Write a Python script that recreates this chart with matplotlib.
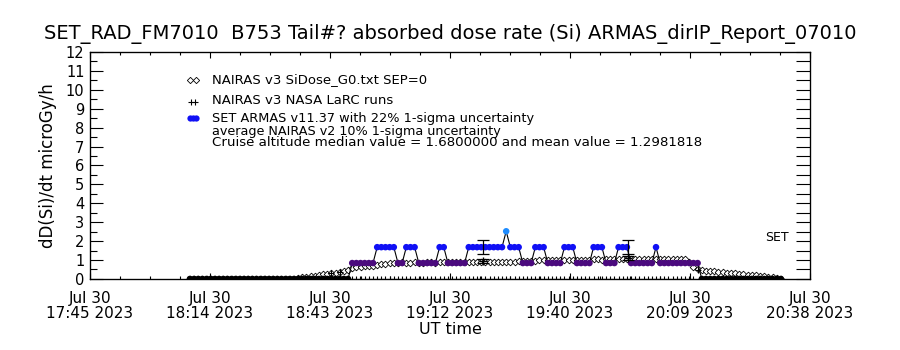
import numpy as np
import matplotlib
matplotlib.use('Agg')
import matplotlib.pyplot as plt
from matplotlib.lines import Line2D

# DATA -- time axis is minutes after 17:45 UT on Jul 30 2023
minutes = np.arange(24, 167)

# SET ARMAS v11.37 dose rate, one sample per minute (t = 24 ... 166)
armas_dose = [
    0, 0, 0, 0, 0, 0, 0, 0, 0, 0, 0, 0, 0, 0, 0, 0, 0, 0, 0, 0,
    0, 0, 0, 0, 0, 0, 0, 0, 0, 0, 0, 0, 0, 0, 0, 0, 0, 0, 0,
    0.84, 0.84, 0.84, 0.84, 0.84, 0.84, 1.68, 1.68, 1.68, 1.68, 1.68,
    0.84, 0.84, 1.68, 1.68, 1.68, 0.84, 0.84, 0.84, 0.84, 0.84,
    1.68, 1.68, 0.84, 0.84, 0.84, 0.84, 0.84,
    1.68, 1.68, 1.68, 1.68, 1.68, 1.68, 1.68, 1.68, 1.68, 2.52,
    1.68, 1.68, 1.68, 0.84, 0.84, 0.84, 1.68, 1.68, 1.68,
    0.84, 0.84, 0.84, 0.84, 1.68, 1.68, 1.68, 0.84, 0.84, 0.84, 0.84,
    1.68, 1.68, 1.68, 0.84, 0.84, 0.84, 1.68, 1.68, 1.68,
    0.84, 0.84, 0.84, 0.84, 0.84, 0.84, 1.68,
    0.84, 0.84, 0.84, 0.84, 0.84, 0.84, 0.84, 0.84, 0.84, 0.84,
    0, 0, 0, 0, 0, 0, 0, 0, 0, 0, 0, 0, 0, 0, 0, 0, 0, 0, 0, 0,
]

# NAIRAS v3 SiDose_G0.txt SEP=0 (t = 24 ... 166)
nairas_sidose = [
    0, 0, 0, 0, 0, 0, 0, 0, 0, 0, 0, 0, 0, 0, 0, 0, 0, 0, 0, 0, 0, 0, 0, 0,
    0.00, 0.02, 0.05, 0.08, 0.12, 0.15, 0.18, 0.21, 0.24, 0.27, 0.30, 0.33,
    0.37, 0.41, 0.46,
    0.58, 0.62, 0.64, 0.66, 0.68, 0.70, 0.73, 0.77, 0.81, 0.84,
    0.86, 0.86, 0.87, 0.86, 0.86, 0.87, 0.86, 0.86, 0.87, 0.87, 0.86, 0.87,
    0.87, 0.88, 0.87, 0.87, 0.88, 0.88, 0.87, 0.88, 0.88, 0.89, 0.88, 0.88,
    0.89, 0.89, 0.90, 0.90,
    0.91, 0.92, 0.93, 0.94, 0.95, 0.96, 0.97, 0.98, 0.98, 0.99,
    1.00, 1.00, 1.01, 1.01, 1.00, 1.01, 1.02, 1.02, 1.01, 1.02, 1.03, 1.03,
    1.02, 1.03, 1.04, 1.04, 1.03, 1.04, 1.05, 1.05, 1.04, 1.05, 1.05, 1.06,
    1.05, 1.05, 1.06, 1.06, 1.05, 1.06, 1.05, 1.05, 1.04,
    0.90, 0.65, 0.50,
    0.46, 0.44, 0.42, 0.40, 0.37, 0.35, 0.33, 0.31, 0.29, 0.27, 0.25, 0.23,
    0.21, 0.19, 0.17, 0.14, 0.12, 0.10,
    0.06, 0.0,
]

# NAIRAS v3 NASA LaRC runs (t = 24 ... 166)
larc_dose = [
    0, 0, 0, 0, 0, 0, 0, 0, 0, 0, 0, 0, 0, 0, 0, 0, 0, 0, 0, 0,
    0, 0, 0, 0, 0, 0, 0, 0, 0, 0, 0, 0, 0, 0, 0.32, 0, 0.37, 0, 0, 0,
    0, 0, 0, 0, 0, 0, 0, 0, 0, 0, 0, 0, 0, 0, 0, 0, 0, 0, 0, 0,
    0, 0, 0, 0, 0, 0, 0, 0, 0, 0, 0, 0, 0, 0, 0, 0, 0, 0, 0, 0,
    0, 0, 0, 0, 0, 0, 0, 0, 0, 0, 0, 0, 0, 0, 0, 0, 0, 0, 0, 0,
    0, 0, 0, 0, 0, 0, 0, 0, 0, 0, 0, 0, 0, 0, 0, 0, 0, 0, 0, 0,
    0, 0, 0.45, 0, 0, 0, 0, 0, 0, 0, 0, 0, 0, 0, 0, 0, 0, 0, 0, 0,
    0, 0, 0,
]

# uncertainty markers
err_minutes = [94.4, 129.3]
armas_median = [1.68, 1.68]
armas_sigma = [0.37, 0.37]
nairas_avg = [0.95, 1.12]
nairas_sigma = [0.10, 0.11]

x_tick_labels = ['Jul 30\n17:45 2023', 'Jul 30\n18:14 2023', 'Jul 30\n18:43 2023',
                 'Jul 30\n19:12 2023', 'Jul 30\n19:40 2023', 'Jul 30\n20:09 2023',
                 'Jul 30\n20:38 2023']
x_span = 173  # 17:45 -> 20:38

legend_texts = ['NAIRAS v3 SiDose_G0.txt SEP=0',
                'NAIRAS v3 NASA LaRC runs',
                'SET ARMAS v11.37 with 22% 1-sigma uncertainty',
                'average NAIRAS v2 10% 1-sigma uncertainty',
                'Cruise altitude median value = 1.6800000 and mean value = 1.2981818']

title = 'SET_RAD_FM7010  B753 Tail#? absorbed dose rate (Si) ARMAS_dirIP_Report_07010'

level_colors = {0: 'black', 0.84: '#4b0a7e', 1.68: '#1010f5', 2.52: '#1e8cff'}

plt.rcParams['font.family'] = ['DejaVu Sans']

fig = plt.figure(figsize=(9, 3.5), dpi=100)
ax = fig.add_axes([0.1, 0.203, 0.8, 0.6486])

# NAIRAS SiDose chain of open diamonds
ax.plot(minutes, nairas_sidose, color='black', lw=0.5, marker='D', ms=3.4,
        mfc='white', mec='black', mew=0.6, zorder=2)

# LaRC runs
ax.plot(minutes, larc_dose, linestyle='none', marker='+', ms=5, mew=0.8,
        color='black', zorder=3)

# ARMAS: thin black connecting line, dots coloured by level
ax.plot(minutes, armas_dose, color='black', lw=0.8, zorder=4)
dot_colors = [level_colors[v] for v in armas_dose]
ax.scatter(minutes, armas_dose, s=22, c=dot_colors, linewidths=0, zorder=5)

ax.errorbar(err_minutes, armas_median, yerr=armas_sigma, fmt='none',
            ecolor='black', elinewidth=0.9, capsize=4, capthick=0.9, zorder=6)
ax.errorbar(err_minutes, nairas_avg, yerr=nairas_sigma, fmt='+', color='black',
            ms=6, elinewidth=0.9, capsize=4, capthick=0.9, zorder=6)

ax.set_xlim(0, x_span)
ax.set_ylim(0, 12)
ax.set_xticks(np.linspace(0, x_span, 7))
ax.set_xticks(np.linspace(0, x_span, 25), minor=True)
ax.set_xticklabels(x_tick_labels, fontsize=11, linespacing=0.95)
ax.set_yticks(range(13))
ax.set_yticks(np.arange(0, 12.5, 0.5), minor=True)
ax.tick_params(axis='y', which='major', direction='in', length=9, width=0.8,
               labelsize=10.5, pad=4)
ax.tick_params(axis='y', which='minor', direction='in', length=4.8, width=0.8)
ax.tick_params(axis='x', which='major', direction='in', length=4.5, width=0.8,
               top=True, pad=9)
ax.tick_params(axis='x', which='minor', direction='in', length=2.2, width=0.8,
               top=True)
for s in ax.spines.values():
    s.set_linewidth(0.9)

# right-hand axis: uniform ticks every 0.5, no labels
ax_r = ax.twinx()
ax_r.set_ylim(0, 12)
ax_r.set_yticks(np.arange(0, 12.5, 0.5))
ax_r.tick_params(axis='y', direction='in', length=10, width=0.8, labelright=False)
ax.text(168, 2.2, 'SET', ha='right', va='center', fontsize=9)

ax.set_xlabel('UT time', fontsize=11.5, labelpad=1)
ax.set_ylabel('dD(Si)/dt microGy/h', fontsize=12, labelpad=6)
fig.text(0.5, 1 - 34 / 350, title, ha='center', va='center', fontsize=14)

# hand-drawn legend block
sym_x = 193 / 900
txt_x = 212 / 900
rows_y = [80, 100, 118, 131, 143]
fig.add_artist(Line2D([sym_x - 0.003, sym_x + 0.003], [1 - rows_y[0] / 350] * 2,
                      transform=fig.transFigure, ls='none', marker='D', ms=3.2,
                      mfc='white', mec='black', mew=0.6))
fig.add_artist(Line2D([sym_x - 0.002, sym_x + 0.002], [1 - (rows_y[1] + 2) / 350] * 2,
                      transform=fig.transFigure, ls='none', marker='+', ms=5,
                      mew=0.8, color='black'))
fig.add_artist(Line2D([sym_x - 0.003, sym_x, sym_x + 0.003], [1 - rows_y[2] / 350] * 3,
                      transform=fig.transFigure, ls='none', marker='o', ms=4.5,
                      mew=0, color='#1010f5'))
legend_sizes = [9.5, 9.5, 9.3, 9.2, 9.6]
for txt, yy, fs in zip(legend_texts, rows_y, legend_sizes):
    fig.text(txt_x, 1 - yy / 350, txt, ha='left', va='center', fontsize=fs)

fig.savefig('out.png', dpi=100)
